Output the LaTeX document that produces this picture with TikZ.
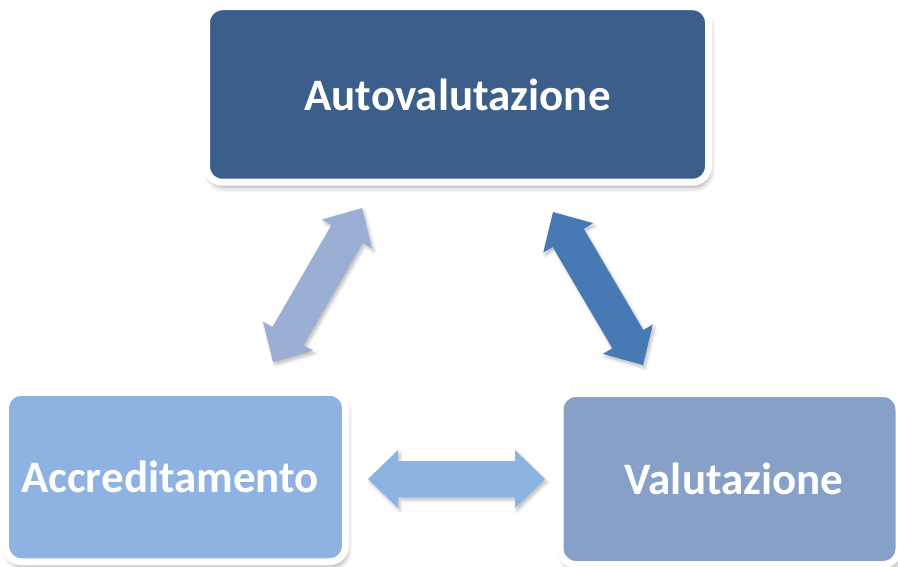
\documentclass[tikz,border=0pt]{standalone}
\usepackage{fontspec}
\setmainfont{Carlito}
\usetikzlibrary{calc,shadows.blur}
\definecolor{topc}{HTML}{3B5E8B}
\definecolor{leftc}{HTML}{8EB3E3}
\definecolor{rightc}{HTML}{87A0C8}
\definecolor{arrL}{HTML}{9AAFD3}
\definecolor{arrR}{HTML}{4779B5}
\definecolor{arrH}{HTML}{8DB3E2}
\tikzset{
  box/.style={draw=white, line width=7pt, rounded corners=16pt, text=white,
    inner sep=0pt, outer sep=0pt,
    font=\fontsize{45}{50}\selectfont\bfseries,
    blur shadow={shadow xshift=2pt, shadow yshift=-5pt, shadow blur radius=5pt, shadow opacity=35}},
  blockarrow/.style={blur shadow={shadow xshift=2pt, shadow yshift=-3pt, shadow blur radius=3pt, shadow opacity=25}}
}
\newcommand{\blkarrow}[3]{%
  \fill[#3, blockarrow] (#1)
    -- ($(#1)!30pt!(#2)!29pt!90:(#2)$)
    -- ($(#1)!30pt!(#2)!18pt!90:(#2)$)
    -- ($(#2)!30pt!(#1)!18pt!-90:(#1)$)
    -- ($(#2)!30pt!(#1)!29pt!-90:(#1)$)
    -- (#2)
    -- ($(#2)!30pt!(#1)!29pt!90:(#1)$)
    -- ($(#2)!30pt!(#1)!18pt!90:(#1)$)
    -- ($(#1)!30pt!(#2)!18pt!-90:(#2)$)
    -- ($(#1)!30pt!(#2)!29pt!-90:(#2)$)
    -- cycle;}
\begin{document}
\begin{tikzpicture}[x=1pt,y=1pt]
\useasboundingbox (0,0) rectangle (898,-567);
\node[box, fill=topc, minimum width=502pt, minimum height=175.5pt] (auto) at (457.5,-94.5) {Autovalutazione};
\node[box, fill=leftc, minimum width=340pt, minimum height=169.5pt] (accr) at (175.5,-477) {\hspace*{-11pt}Accreditamento};
\node[box, fill=rightc, minimum width=339pt, minimum height=171pt] (valu) at (729.5,-479) {Valutazione\hspace*{-9pt}};
\coordinate (l1) at (273,-362);
\coordinate (l2) at (362,-208);
\coordinate (r1) at (553,-212);
\coordinate (r2) at (643,-365);
\coordinate (h1) at (368,-479);
\coordinate (h2) at (545,-479);
\blkarrow{l1}{l2}{arrL}
\blkarrow{r1}{r2}{arrR}
\blkarrow{h1}{h2}{arrH}
\end{tikzpicture}
\end{document}
